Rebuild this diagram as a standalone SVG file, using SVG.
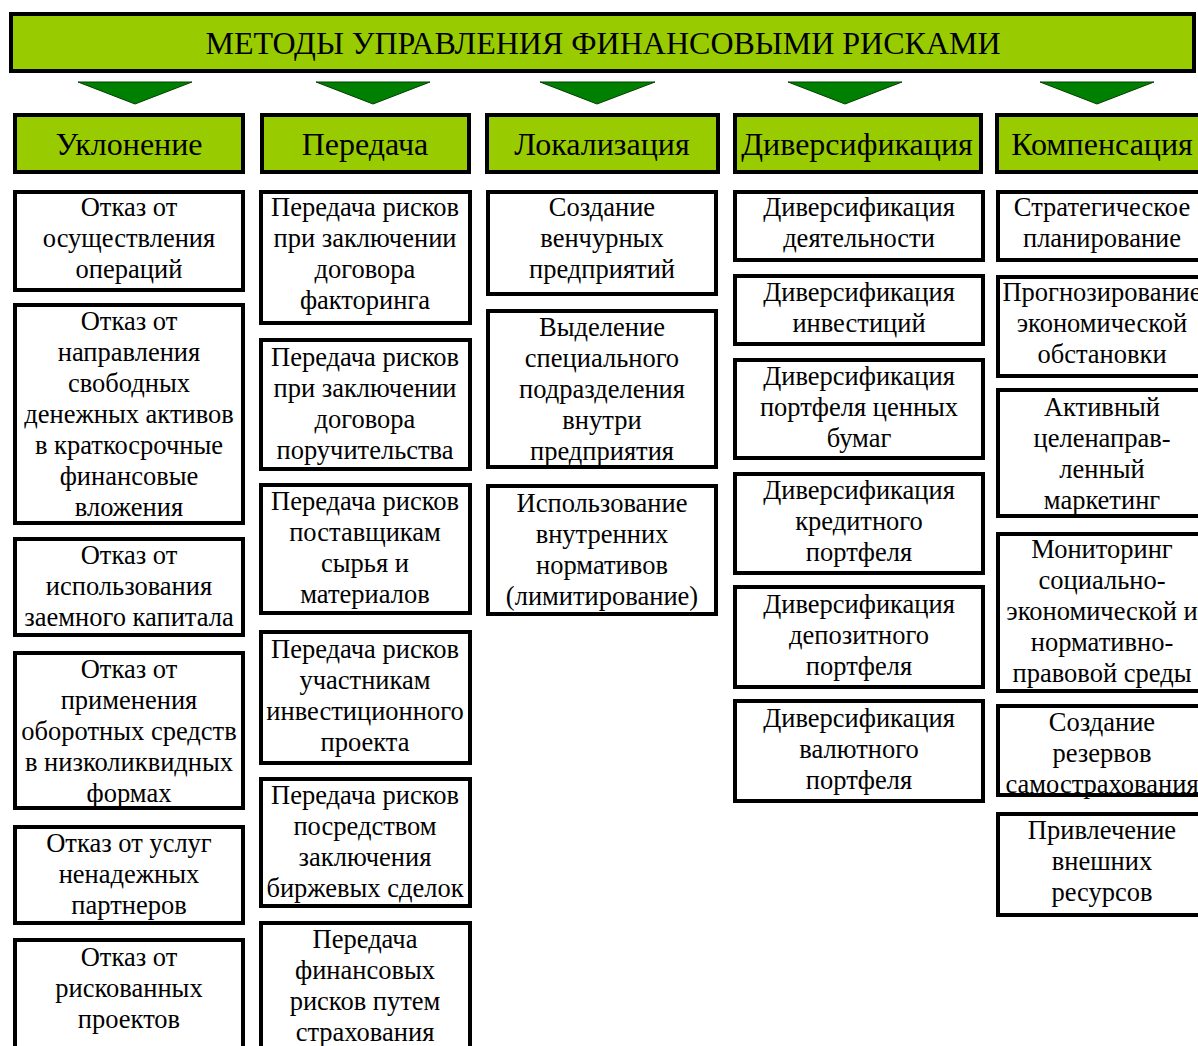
<svg xmlns="http://www.w3.org/2000/svg" width="1198" height="1046" viewBox="0 0 1198 1046">
<style>
.g{fill:#99cc00;stroke:#000;stroke-width:4}
.b{fill:#fff;stroke:#000;stroke-width:4}
.tri{fill:#008000;stroke:#004000;stroke-width:1}
text{fill:#000;text-anchor:middle}
.t{font-size:26.5px}
.h{font-size:32px}
</style>
<rect width="1198" height="1046" fill="#fff"/>
<g font-family="Liberation Serif, DejaVu Serif, serif">
<g id="title"><rect class="g" x="11" y="14" width="1183" height="57"/><text class="h" x="603" y="54">МЕТОДЫ УПРАВЛЕНИЯ ФИНАНСОВЫМИ РИСКАМИ</text></g>
<g id="connectors">
<polygon class="tri" points="78,82 192,82 135,104"/>
<polygon class="tri" points="316,82 430,82 373,104"/>
<polygon class="tri" points="540,82 655,82 597,104"/>
<polygon class="tri" points="788,82 902,82 845,104"/>
<polygon class="tri" points="1040,82 1154,82 1097,104"/>
</g>
<g id="h1"><rect class="g" x="15" y="115" width="228" height="57"/><text class="h" x="129" y="155">Уклонение</text></g>
<g id="h2"><rect class="g" x="262" y="115" width="207" height="57"/><text class="h" x="365" y="155">Передача</text></g>
<g id="h3"><rect class="g" x="487" y="115" width="231" height="57"/><text class="h" x="602" y="155">Локализация</text></g>
<g id="h4"><rect class="g" x="735" y="115" width="246" height="57"/><text class="h" x="857" y="155">Диверсификация</text></g>
<g id="h5"><rect class="g" x="997" y="115" width="220" height="57"/><text class="h" x="1102" y="155">Компенсация</text></g>

<g id="c1b1"><rect class="b" x="15" y="192" width="228" height="98"/><text class="t" x="129" y="216">Отказ от</text><text class="t" x="129" y="247">осуществления</text><text class="t" x="129" y="278">операций</text></g>
<g id="c1b2"><rect class="b" x="15" y="305" width="228" height="218"/><text class="t" x="129" y="330">Отказ от</text><text class="t" x="129" y="361">направления</text><text class="t" x="129" y="392">свободных</text><text class="t" x="129" y="423">денежных активов</text><text class="t" x="129" y="454">в краткосрочные</text><text class="t" x="129" y="485">финансовые</text><text class="t" x="129" y="516">вложения</text></g>
<g id="c1b3"><rect class="b" x="15" y="539" width="228" height="96"/><text class="t" x="129" y="564">Отказ от</text><text class="t" x="129" y="595">использования</text><text class="t" x="129" y="626">заемного капитала</text></g>
<g id="c1b4"><rect class="b" x="15" y="653" width="228" height="155"/><text class="t" x="129" y="678">Отказ от</text><text class="t" x="129" y="709">применения</text><text class="t" x="129" y="740">оборотных средств</text><text class="t" x="129" y="771">в низколиквидных</text><text class="t" x="129" y="802">формах</text></g>
<g id="c1b5"><rect class="b" x="15" y="827" width="228" height="96"/><text class="t" x="129" y="852">Отказ от услуг</text><text class="t" x="129" y="883">ненадежных</text><text class="t" x="129" y="914">партнеров</text></g>
<g id="c1b6"><rect class="b" x="15" y="940" width="228" height="120"/><text class="t" x="129" y="966">Отказ от</text><text class="t" x="129" y="997">рискованных</text><text class="t" x="129" y="1028">проектов</text></g>

<g id="c2b1"><rect class="b" x="261" y="192" width="209" height="131"/><text class="t" x="365" y="216">Передача рисков</text><text class="t" x="365" y="247">при заключении</text><text class="t" x="365" y="278">договора</text><text class="t" x="365" y="309">факторинга</text></g>
<g id="c2b2"><rect class="b" x="261" y="340" width="209" height="129"/><text class="t" x="365" y="366">Передача рисков</text><text class="t" x="365" y="397">при заключении</text><text class="t" x="365" y="428">договора</text><text class="t" x="365" y="459">поручительства</text></g>
<g id="c2b3"><rect class="b" x="261" y="485" width="209" height="128"/><text class="t" x="365" y="510">Передача рисков</text><text class="t" x="365" y="541">поставщикам</text><text class="t" x="365" y="572">сырья и</text><text class="t" x="365" y="603">материалов</text></g>
<g id="c2b4"><rect class="b" x="261" y="632" width="209" height="131"/><text class="t" x="365" y="658">Передача рисков</text><text class="t" x="365" y="689">участникам</text><text class="t" x="365" y="720">инвестиционного</text><text class="t" x="365" y="751">проекта</text></g>
<g id="c2b5"><rect class="b" x="261" y="779" width="209" height="127"/><text class="t" x="365" y="804">Передача рисков</text><text class="t" x="365" y="835">посредством</text><text class="t" x="365" y="866">заключения</text><text class="t" x="365" y="897">биржевых сделок</text></g>
<g id="c2b6"><rect class="b" x="261" y="923" width="209" height="140"/><text class="t" x="365" y="948">Передача</text><text class="t" x="365" y="979">финансовых</text><text class="t" x="365" y="1010">рисков путем</text><text class="t" x="365" y="1041">страхования</text></g>

<g id="c3b1"><rect class="b" x="488" y="192" width="228" height="102"/><text class="t" x="602" y="216">Создание</text><text class="t" x="602" y="247">венчурных</text><text class="t" x="602" y="278">предприятий</text></g>
<g id="c3b2"><rect class="b" x="488" y="311" width="228" height="156"/><text class="t" x="602" y="336">Выделение</text><text class="t" x="602" y="367">специального</text><text class="t" x="602" y="398">подразделения</text><text class="t" x="602" y="429">внутри</text><text class="t" x="602" y="460">предприятия</text></g>
<g id="c3b3"><rect class="b" x="488" y="486" width="228" height="128"/><text class="t" x="602" y="512">Использование</text><text class="t" x="602" y="543">внутренних</text><text class="t" x="602" y="574">нормативов</text><text class="t" x="602" y="605">(лимитирование)</text></g>

<g id="c4b1"><rect class="b" x="735" y="192" width="248" height="68"/><text class="t" x="859" y="216">Диверсификация</text><text class="t" x="859" y="247">деятельности</text></g>
<g id="c4b2"><rect class="b" x="735" y="276" width="248" height="68"/><text class="t" x="859" y="301">Диверсификация</text><text class="t" x="859" y="332">инвестиций</text></g>
<g id="c4b3"><rect class="b" x="735" y="360" width="248" height="98"/><text class="t" x="859" y="385">Диверсификация</text><text class="t" x="859" y="416">портфеля ценных</text><text class="t" x="859" y="447">бумаг</text></g>
<g id="c4b4"><rect class="b" x="735" y="474" width="248" height="99"/><text class="t" x="859" y="499">Диверсификация</text><text class="t" x="859" y="530">кредитного</text><text class="t" x="859" y="561">портфеля</text></g>
<g id="c4b5"><rect class="b" x="735" y="587" width="248" height="100"/><text class="t" x="859" y="613">Диверсификация</text><text class="t" x="859" y="644">депозитного</text><text class="t" x="859" y="675">портфеля</text></g>
<g id="c4b6"><rect class="b" x="735" y="701" width="248" height="100"/><text class="t" x="859" y="727">Диверсификация</text><text class="t" x="859" y="758">валютного</text><text class="t" x="859" y="789">портфеля</text></g>

<g id="c5b1"><rect class="b" x="998" y="192" width="215" height="68"/><text class="t" x="1102" y="216">Стратегическое</text><text class="t" x="1102" y="247">планирование</text></g>
<g id="c5b2"><rect class="b" x="998" y="277" width="215" height="99"/><text class="t" x="1102" y="301">Прогнозирование</text><text class="t" x="1102" y="332">экономической</text><text class="t" x="1102" y="363">обстановки</text></g>
<g id="c5b3"><rect class="b" x="998" y="390" width="215" height="126"/><text class="t" x="1102" y="416">Активный</text><text class="t" x="1102" y="447">целенаправ-</text><text class="t" x="1102" y="478">ленный</text><text class="t" x="1102" y="509">маркетинг</text></g>
<g id="c5b4"><rect class="b" x="998" y="534" width="215" height="157"/><text class="t" x="1102" y="558">Мониторинг</text><text class="t" x="1102" y="589">социально-</text><text class="t" x="1102" y="620">экономической и</text><text class="t" x="1102" y="651">нормативно-</text><text class="t" x="1102" y="682">правовой среды</text></g>
<g id="c5b5"><rect class="b" x="998" y="706" width="215" height="89"/><text class="t" x="1102" y="731">Создание</text><text class="t" x="1102" y="762">резервов</text><text class="t" x="1102" y="793">самострахования</text></g>
<g id="c5b6"><rect class="b" x="998" y="814" width="215" height="101"/><text class="t" x="1102" y="839">Привлечение</text><text class="t" x="1102" y="870">внешних</text><text class="t" x="1102" y="901">ресурсов</text></g>
</g>
</svg>
